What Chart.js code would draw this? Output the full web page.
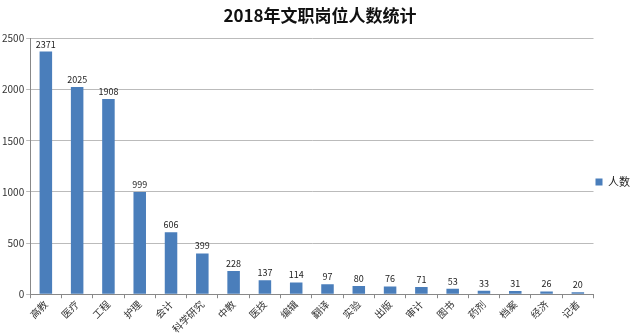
<!DOCTYPE html>
<html>
<head>
<meta charset="utf-8">
<script src="https://cdn.jsdelivr.net/npm/chart.js@4"></script>
<style>
  html, body { margin: 0; padding: 0; background: #fff; }
  #wrap { width: 640px; height: 335px; position: relative; }
</style>
</head>
<body>
<div id="wrap"><canvas id="barChart"></canvas></div>
<script>
const categories = ['高教', '医疗', '工程', '护理', '会计', '科学研究', '中教', '医技', '编辑', '翻译', '实验', '出版', '审计', '图书', '药剂', '档案', '经济', '记者'];
const counts = [2371, 2025, 1908, 999, 606, 399, 228, 137, 114, 97, 80, 76, 71, 53, 33, 31, 26, 20];
const seriesName = '人数';
const yTicks = [0, 500, 1000, 1500, 2000, 2500];

const fontFamily = '"Noto Sans CJK SC", "Liberation Sans", sans-serif';

// draw the value above each bar
const valueLabels = {
  id: 'valueLabels',
  afterDatasetsDraw(chart) {
    const ctx = chart.ctx;
    const meta = chart.getDatasetMeta(0);
    ctx.save();
    ctx.font = '9px ' + fontFamily;
    ctx.fillStyle = '#222';
    ctx.textAlign = 'center';
    ctx.textBaseline = 'bottom';
    meta.data.forEach((bar, i) => {
      ctx.fillText(counts[i], bar.x, bar.y - 3);
    });
    ctx.restore();
  }
};

// nudge the legend down a little, like the original
const legendShift = {
  id: 'legendShift',
  afterLayout(chart) {
    chart.legend.top += 13;
    chart.legend.bottom += 13;
  }
};

const ctx = document.getElementById('barChart').getContext('2d');
let barChart = new Chart(ctx, {
  type: 'bar',
  data: {
    labels: categories,
    datasets: [
      {
        label: seriesName,
        data: counts,
        backgroundColor: '#4a7ebb',
        borderWidth: 0,
        categoryPercentage: 1,
        barPercentage: 0.4
      }
    ]
  },
  options: {
    responsive: true,
    maintainAspectRatio: false,
    animation: false,
    layout: { padding: { left: 0, right: 0, top: 3, bottom: 0 } },
    plugins: {
      title: {
        display: true,
        text: '2018年文职岗位人数统计',
        color: '#111',
        font: { family: fontFamily, size: 17, weight: 'bold' },
        padding: { top: 2, bottom: 13 }
      },
      legend: {
        position: 'right',
        labels: {
          boxWidth: 7,
          boxHeight: 7,
          padding: 2,
          color: '#222',
          font: { family: fontFamily, size: 11 }
        }
      },
      tooltip: { enabled: false }
    },
    scales: {
      x: {
        grid: {
          offset: true,
          drawOnChartArea: false,
          drawTicks: true,
          tickLength: 4,
          color: '#888'
        },
        border: { color: '#888' },
        ticks: {
          minRotation: 45,
          maxRotation: 45,
          color: '#333',
          font: { family: fontFamily, size: 10 },
          padding: 0
        }
      },
      y: {
        min: 0,
        max: 2500,
        afterBuildTicks(axis) {
          axis.ticks = yTicks.map(v => ({ value: v }));
        },
        grid: {
          color: '#bbb',
          tickLength: 4
        },
        border: { color: '#888' },
        ticks: {
          color: '#333',
          font: { family: fontFamily, size: 10 },
          padding: 2,
          callback: v => String(v)
        }
      }
    }
  },
  plugins: [valueLabels, legendShift]
});
</script>
</body>
</html>
